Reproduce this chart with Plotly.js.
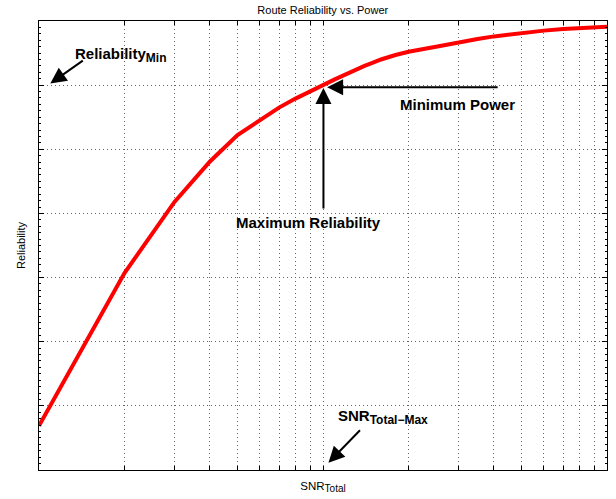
<!DOCTYPE html>
<html>
<head>
<meta charset="utf-8">
<script src="https://cdn.plot.ly/plotly-3.0.1.min.js"></script>
<style>html,body{margin:0;padding:0;background:#fff;}#chart{width:616px;height:499px;}</style>
</head>
<body>
<div id="chart"></div>
<script>
// SNR_Total (log scale) and route reliability
const snrTotal = [1, 2, 3, 4, 5, 6, 7, 8, 9, 10, 11, 12, 13, 14, 15, 16, 18, 20, 25, 30, 35, 40, 45, 50, 60, 70, 80, 90, 100];
const reliability = [0.369, 0.607, 0.718, 0.781, 0.822, 0.846, 0.865, 0.879, 0.891, 0.900,
                     0.909, 0.917, 0.924, 0.930, 0.935, 0.940, 0.947, 0.952, 0.960, 0.967,
                     0.972, 0.976, 0.979, 0.981, 0.985, 0.9875, 0.989, 0.990, 0.991];

const FONT = 'Liberation Sans, Arial, Helvetica, sans-serif';

const trace = {
  x: snrTotal, y: reliability, type: 'scatter', mode: 'lines',
  line: {color: '#ff0000', width: 4}, hoverinfo: 'none'
};

function arrow(x, y, ax, ay) {
  return {xref: 'paper', yref: 'paper', x: x, y: y, ax: ax, ay: ay, text: '',
          showarrow: true, arrowhead: 2, arrowsize: 1.6, arrowwidth: 2, arrowcolor: '#000', standoff: 0};
}
function label(text, x, y, xanchor, yanchor) {
  return {xref: 'paper', yref: 'paper', x: x, y: y, text: text, showarrow: false,
          xanchor: xanchor, yanchor: yanchor, font: {family: FONT, size: 15, color: '#000'}};
}
const sub = (t, px) => '<sub><span style="font-size:' + px + 'px">' + t + '</span></sub>';

const layout = {
  width: 616, height: 499,
  margin: {l: 39, r: 9, t: 21, b: 29},
  paper_bgcolor: '#fff', plot_bgcolor: '#fff',
  showlegend: false,
  font: {family: FONT, size: 11, color: '#000'},
  title: {text: 'Route Reliability vs. Power', x: 0.524, xanchor: 'center', y: 0.979, yanchor: 'middle',
          font: {family: FONT, size: 11, color: '#000'}},
  xaxis: {
    type: 'log', range: [0, 2], dtick: 'D1', showticklabels: false,
    ticks: 'inside', ticklen: 4, tickcolor: '#000',
    showline: true, linecolor: '#000', linewidth: 1, mirror: 'ticks',
    showgrid: true, gridcolor: '#666', griddash: '1px,3px', gridwidth: 1, zeroline: false,
    title: {text: 'SNR' + sub('Total', 10), standoff: 11, font: {family: FONT, size: 11.5, color: '#000'}}
  },
  yaxis: {
    range: [0.3, 1.0], dtick: 0.1, showticklabels: false,
    ticks: 'inside', ticklen: 5, tickcolor: '#000',
    minor: {dtick: 0.01, ticks: 'inside', ticklen: 2, tickcolor: '#000', showgrid: false},
    showline: true, linecolor: '#000', linewidth: 1, mirror: 'ticks',
    showgrid: true, gridcolor: '#666', griddash: '1px,3px', gridwidth: 1, zeroline: false,
    title: {text: 'Reliability', standoff: 10, font: {family: FONT, size: 11, color: '#000'}}
  },
  annotations: [
    arrow(0.5073, 0.8523, 172, 0),
    arrow(0.5008, 0.8508, 0, 122),
    arrow(0.0199, 0.8608, 34, -24),
    arrow(0.5096, 0.0163, 33, -34),
    label('<b>Reliability' + sub('Min', 12) + '</b>', 0.0604, 0.925, 'left', 'middle'),
    label('<b>Minimum Power</b>', 0.736, 0.813, 'center', 'middle'),
    label('<b>Maximum Reliability</b>', 0.474, 0.5517, 'center', 'middle'),
    label('<b>SNR' + sub('Total\u2212Max', 12) + '</b>', 0.5237, 0.117, 'left', 'middle')
  ]
};

Plotly.newPlot('chart', [trace], layout, {displayModeBar: false, staticPlot: true});
</script>
</body>
</html>
